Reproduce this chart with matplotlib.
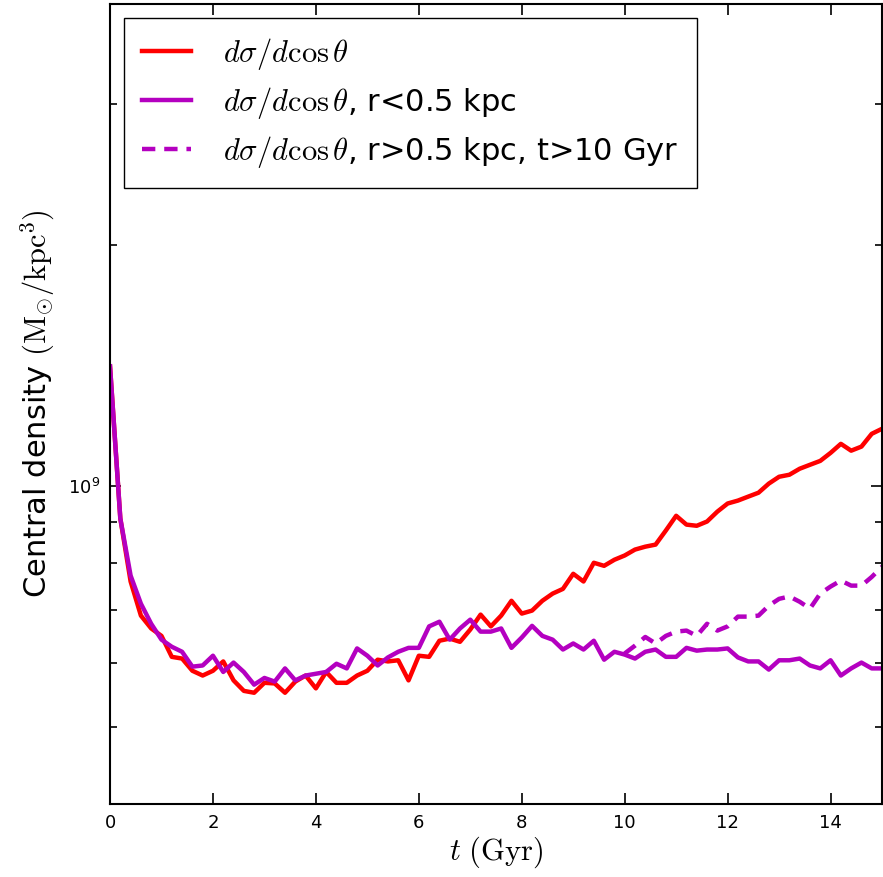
import numpy as np
import matplotlib
matplotlib.use("Agg")
import matplotlib.pyplot as plt
from matplotlib.ticker import LogLocator, NullFormatter

plt.rcParams['mathtext.fontset'] = 'cm'
plt.rcParams['font.family'] = 'DejaVu Sans'

# time grid (Gyr), one snapshot every 0.2 Gyr
t = np.round(np.arange(0, 15.01, 0.2), 1)

# central density, units of 1e9 Msun/kpc^3
rho_all = [1.41, 0.910, 0.759, 0.688, 0.663, 0.649, 0.611, 0.608, 0.587, 0.579,
           0.587, 0.603, 0.571, 0.554, 0.551, 0.567, 0.566, 0.551, 0.569, 0.579,
           0.558, 0.585, 0.567, 0.567, 0.579, 0.587, 0.606, 0.603, 0.605, 0.571,
           0.613, 0.611, 0.640, 0.644, 0.638, 0.661, 0.690, 0.667, 0.688, 0.718,
           0.692, 0.698, 0.718, 0.733, 0.743, 0.776, 0.759, 0.801, 0.794, 0.808,
           0.818, 0.832, 0.839, 0.844, 0.879, 0.917, 0.894, 0.891, 0.902, 0.928,
           0.950, 0.958, 0.969, 0.980, 1.006, 1.026, 1.032, 1.050, 1.062, 1.074,
           1.099, 1.128, 1.106, 1.119, 1.161, 1.178]

rho_inner = [1.41, 0.910, 0.772, 0.712, 0.672, 0.642, 0.629, 0.620, 0.594, 0.596,
             0.613, 0.585, 0.601, 0.585, 0.564, 0.575, 0.569, 0.591, 0.571, 0.579,
             0.582, 0.585, 0.599, 0.591, 0.626, 0.613, 0.596, 0.610, 0.620, 0.627,
             0.627, 0.667, 0.676, 0.642, 0.663, 0.680, 0.657, 0.657, 0.663, 0.627,
             0.646, 0.668, 0.649, 0.642, 0.624, 0.635, 0.624, 0.640, 0.606, 0.620,
             0.615, 0.608, 0.620, 0.624, 0.611, 0.611, 0.627, 0.622, 0.624, 0.624,
             0.626, 0.610, 0.603, 0.603, 0.589, 0.605, 0.605, 0.608, 0.596, 0.591,
             0.605, 0.579, 0.591, 0.601, 0.591, 0.591]

# r>0.5 kpc run, only after t=10 Gyr
t_late = t[t >= 10]
rho_outer = [0.617, 0.631, 0.647, 0.635, 0.649, 0.657, 0.659, 0.649, 0.672, 0.659,
             0.667, 0.686, 0.686, 0.688, 0.708, 0.722, 0.727, 0.716, 0.702, 0.733,
             0.748, 0.761, 0.750, 0.750, 0.769, 0.792]

red = '#ff0000'
purple = '#b400c0'
lab = r'$d\sigma/d\cos\theta$'

fig = plt.figure(figsize=(8.83, 8.77), dpi=100)
ax = fig.add_axes([0.1246, 0.0832, 0.8743, 0.9122])

ax.plot(t, np.array(rho_all) * 1e9, color=red, lw=3.2, label=lab)
ax.plot(t, np.array(rho_inner) * 1e9, color=purple, lw=3.2, label=lab + ', r<0.5 kpc')
ax.plot(t_late, np.array(rho_outer) * 1e9, color=purple, lw=3.2, dashes=(3, 2),
        label=lab + ', r>0.5 kpc, t>10 Gyr')

ax.set_yscale('log')
ax.set_xlim(0, 15)
ax.set_ylim(4e8, 4e9)
ax.set_xticks([0, 2, 4, 6, 8, 10, 12, 14])
ax.yaxis.set_minor_locator(LogLocator(base=10, subs=np.arange(2, 10)))
ax.yaxis.set_minor_formatter(NullFormatter())

ax.tick_params(which='both', direction='in', top=True, right=True, labelsize=13, width=1.2)
ax.tick_params(which='major', length=8, pad=7)
ax.tick_params(which='minor', length=5)
for s in ax.spines.values():
    s.set_linewidth(1.5)

ax.set_xlabel(r'$t\ (\mathrm{Gyr})$', fontsize=22, labelpad=2)
ax.set_ylabel(r'Central density $(\mathrm{M}_{\odot}/\mathrm{kpc}^3)$', fontsize=22, labelpad=8)

leg = ax.legend(loc='upper left', fontsize=22, handlelength=1.6, handletextpad=1.05,
                borderaxespad=0.45, borderpad=0.6, fancybox=False, framealpha=1,
                labelspacing=0.42)
leg.get_frame().set_edgecolor('black')
leg.get_frame().set_linewidth(1.0)

fig.savefig('out.png', dpi=100)
